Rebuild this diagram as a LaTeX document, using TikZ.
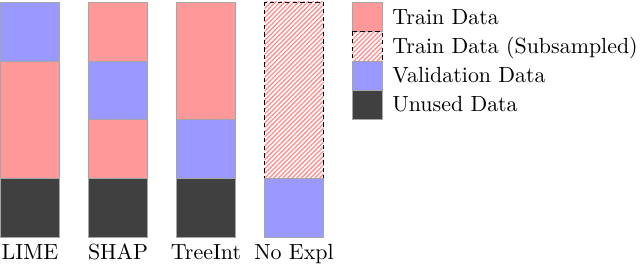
\documentclass[tikz,border=0pt]{standalone}
\usetikzlibrary{patterns.meta}
\tikzset{
  seg/.style={draw=black!35, line width=0.4pt},
  trainc/.style={seg, fill=red!40},
  valc/.style={seg, fill=blue!40},
  unusedc/.style={seg, fill=black!75},
  subfill/.style={pattern={Lines[angle=45, distance=1.5pt, line width=0.6pt]}, pattern color=red!45},
  subedge/.style={draw=black, dashed, dash pattern=on 2pt off 1.5pt, line width=0.45pt},
  lbl/.style={inner sep=0pt, anchor=base, font=\fontsize{10.15}{12}\selectfont},
  leg/.style={inner sep=0pt, anchor=base west, font=\fontsize{10.15}{12}\selectfont}
}
\begin{document}
\begin{tikzpicture}[x=0.463pt, y=-0.463pt]
\useasboundingbox (0,0) rectangle (640,264);
% LIME
\path[valc] (0.5,2) rectangle (59.5,61);
\path[trainc] (0.5,61) rectangle (59.5,178.5);
\path[unusedc] (0.5,178.5) rectangle (59.5,237);
% SHAP
\path[trainc] (88.5,2) rectangle (147.5,61);
\path[valc] (88.5,61) rectangle (147.5,119.5);
\path[trainc] (88.5,119.5) rectangle (147.5,178.5);
\path[unusedc] (88.5,178.5) rectangle (147.5,237);
% TreeInt
\path[trainc] (176.5,2) rectangle (235.5,119.5);
\path[valc] (176.5,119.5) rectangle (235.5,178.5);
\path[unusedc] (176.5,178.5) rectangle (235.5,237);
% No Expl
\path[subfill] (264.5,2) rectangle (323.5,178.5);
\path[subedge] (264.5,2) rectangle (323.5,178.5);
\path[valc] (264.5,178.5) rectangle (323.5,237);
% labels
\node[lbl] (l1) at (30,259.5) {LIME};
\node[lbl] (l2) at (118,259.5) {SHAP};
\node[lbl] (l3) at (206,259.5) {TreeInt};
\node[lbl] (l4) at (294,259.5) {No Expl};
% legend
\path[trainc] (352.5,2.5) rectangle (382,31.5);
\path[subfill] (352.5,31.5) rectangle (382,61);
\path[subedge] (352.5,31.5) rectangle (382,61);
\path[valc] (352.5,61) rectangle (382,90);
\path[unusedc] (352.5,90) rectangle (382,119);
\node[leg] (g1) at (392,25) {Train Data};
\node[leg] (g2) at (392,54) {Train Data (Subsampled)};
\node[leg] (g3) at (392,83) {Validation Data};
\node[leg] (g4) at (392,112) {Unused Data};
\end{tikzpicture}
\end{document}
